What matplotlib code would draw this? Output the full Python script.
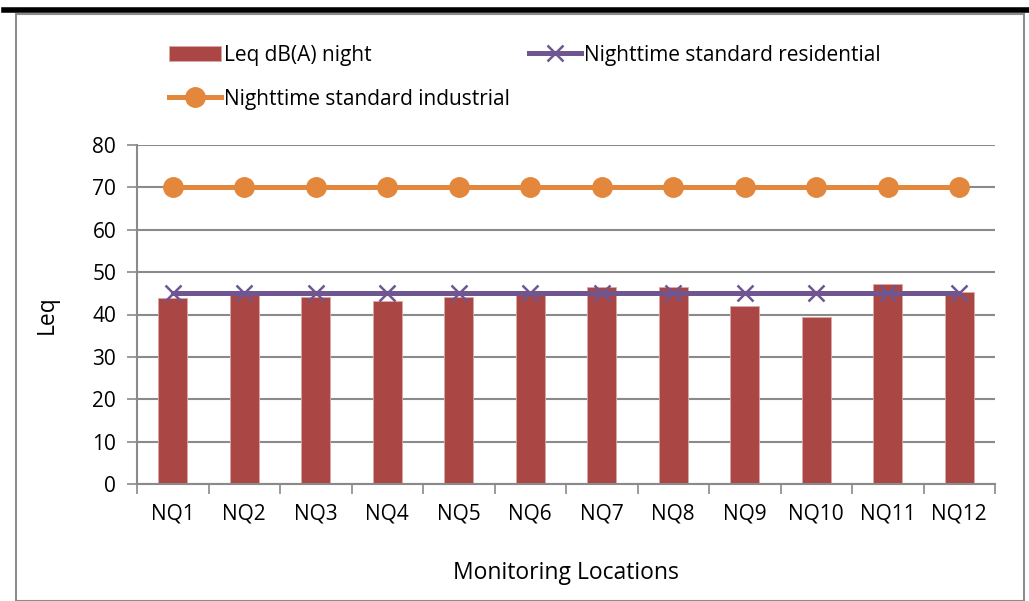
import numpy as np
import matplotlib.pyplot as plt
from matplotlib.patches import Rectangle

plt.rcParams['font.family'] = ['Liberation Sans Narrow', 'Open Sans', 'DejaVu Sans']

locations = ["NQ1", "NQ2", "NQ3", "NQ4", "NQ5", "NQ6", "NQ7", "NQ8", "NQ9", "NQ10", "NQ11", "NQ12"]
leq_night = [43.8, 44.6, 44.1, 43.2, 44.1, 44.8, 46.5, 46.4, 42.1, 39.5, 47.1, 45.2]
std_residential = [45] * 12
std_industrial = [70] * 12

red = "#AA4744"
purple = "#6F5690"
orange = "#E3873C"
grid = "#8A8A8A"

fig = plt.figure(figsize=(10.29, 6.01), dpi=100)
ax = fig.add_axes([137/1029, 1-484/601, (995-137)/1029, (484-145)/601])

x = np.arange(len(locations))
bars = ax.bar(x, leq_night, width=0.4, color=red, edgecolor="#D9A9A8", linewidth=0.6, zorder=2,
              label="Leq dB(A) night")
res, = ax.plot(x, std_residential, color=purple, lw=3.6, marker="x", ms=11, mew=1.8, zorder=3,
               label="Nighttime standard residential")
ind, = ax.plot(x, std_industrial, color=orange, lw=3.6, marker="o", ms=14, zorder=3,
               label="Nighttime standard industrial")

ax.set_xlim(-0.5, len(locations) - 0.5)
ax.set_ylim(0, 80)
ax.set_yticks(np.arange(0, 81, 10))
ax.yaxis.grid(True, color=grid, lw=1.5)
ax.set_axisbelow(True)
ax.set_xticks(x)
ax.set_xticklabels(locations, fontsize=15)
ax.set_xticks(np.arange(-0.5, len(locations)), minor=True)
ax.tick_params(axis="x", which="major", length=0, pad=14)
ax.tick_params(axis="x", which="minor", length=7, color=grid, width=1.2)
ax.tick_params(axis="y", length=7, color=grid, width=1.2, labelsize=15, pad=8)
for s in ["top", "right"]:
    ax.spines[s].set_visible(False)
for s in ["left", "bottom"]:
    ax.spines[s].set_color(grid)
    ax.spines[s].set_linewidth(1.5)

ax.set_ylabel("Leq", fontsize=16.5, labelpad=24)
ax.set_xlabel("Monitoring Locations", fontsize=16.5, labelpad=26)

fig.legend([bars, ind, res], [bars.get_label(), ind.get_label(), res.get_label()],
           ncol=2, loc="upper left", bbox_to_anchor=(150/1029, 1-26/601), frameon=False,
           fontsize=15, handlelength=2.5, handletextpad=0.15, labelspacing=1.1, columnspacing=0.9)

# outer chart frame and the thick top rule
fig.add_artist(Rectangle((16/1029, 0), (1024-16)/1029, 1-14/601, transform=fig.transFigure,
                         fill=False, edgecolor="#8C8C8C", lw=1.5))
fig.add_artist(plt.Line2D([4/1029, 1], [1-10/601, 1-10/601], transform=fig.transFigure,
                          color="black", lw=4))

fig.savefig("out.png", dpi=100)
